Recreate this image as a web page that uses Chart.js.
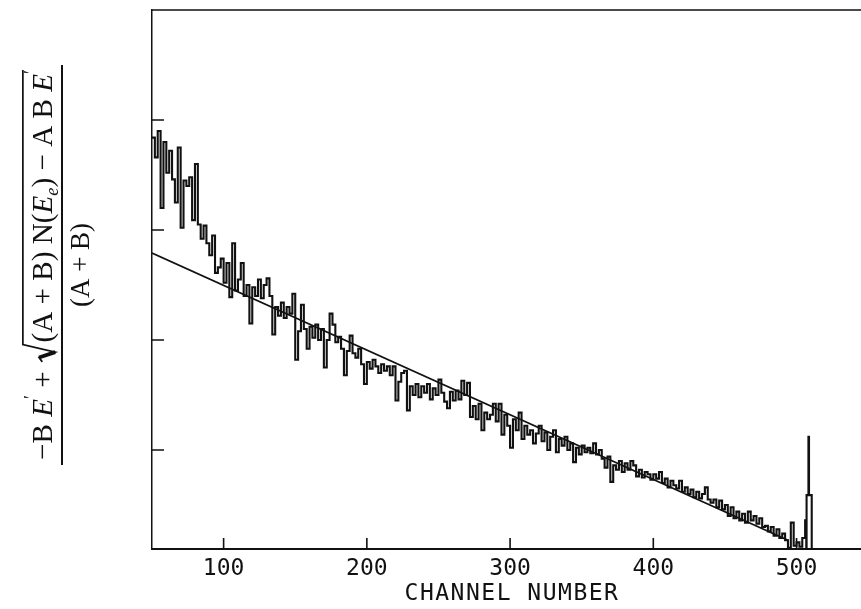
<!DOCTYPE html>
<html>
<head>
<meta charset="utf-8">
<script src="https://cdn.jsdelivr.net/npm/chart.js@4.4.1/dist/chart.umd.min.js"></script>
<style>
  html, body { margin: 0; padding: 0; background: #fff; }
  #forChart { width: 861px; height: 609px; }
</style>
</head>
<body>
<div id="forChart"><canvas id="myChart" width="861" height="609"></canvas></div>
<script>
// spectrum, one value every 2 channels starting at channel 50
const firstChannel = 50;
const channelStep = 2;
const counts = [
  3.84, 3.66, 3.90, 3.20, 3.80, 3.52, 3.72, 3.46, 3.25, 3.75,   // 50
  3.02, 3.45, 3.40, 3.48, 3.09, 3.60, 3.05, 2.92, 3.04, 2.88,   // 70
  2.77, 2.95, 2.61, 2.66, 2.74, 2.52, 2.70, 2.39, 2.88, 2.45,   // 90
  2.55, 2.70, 2.40, 2.50, 2.15, 2.48, 2.40, 2.55, 2.38, 2.50,   // 110
  2.56, 2.40, 2.05, 2.30, 2.22, 2.34, 2.20, 2.30, 2.24, 2.42,   // 130
  1.82, 2.08, 2.32, 2.10, 1.92, 2.12, 2.02, 2.14, 2.00, 2.10,   // 150
  1.75, 2.00, 2.24, 2.14, 1.98, 2.03, 1.92, 1.68, 1.90, 2.04,   // 170
  1.88, 1.84, 1.92, 1.78, 1.60, 1.80, 1.74, 1.82, 1.76, 1.70,   // 190
  1.78, 1.72, 1.76, 1.68, 1.76, 1.45, 1.62, 1.70, 1.72, 1.36,   // 210
  1.58, 1.50, 1.60, 1.48, 1.58, 1.52, 1.60, 1.46, 1.56, 1.50,   // 230
  1.64, 1.52, 1.44, 1.38, 1.53, 1.45, 1.54, 1.46, 1.63, 1.50,   // 250
  1.61, 1.30, 1.40, 1.28, 1.42, 1.18, 1.34, 1.28, 1.32, 1.42,   // 270
  1.26, 1.42, 1.14, 1.32, 1.22, 1.02, 1.28, 1.18, 1.34, 1.10,   // 290
  1.22, 1.14, 1.18, 1.06, 1.15, 1.22, 1.08, 1.16, 1.00, 1.12,   // 310
  1.18, 0.98, 1.10, 1.04, 1.12, 1.00, 1.06, 0.89, 1.02, 0.96,   // 330
  1.04, 0.98, 1.02, 0.97, 1.06, 0.96, 1.00, 0.92, 0.84, 0.94,   // 350
  0.71, 0.86, 0.82, 0.90, 0.80, 0.88, 0.82, 0.90, 0.86, 0.76,   // 370
  0.82, 0.75, 0.80, 0.78, 0.73, 0.78, 0.74, 0.80, 0.70, 0.74,   // 390
  0.66, 0.72, 0.68, 0.65, 0.72, 0.62, 0.66, 0.60, 0.64, 0.57,   // 410
  0.62, 0.56, 0.60, 0.66, 0.55, 0.52, 0.55, 0.48, 0.54, 0.46,   // 430
  0.50, 0.40, 0.48, 0.38, 0.44, 0.36, 0.42, 0.34, 0.44, 0.36,   // 450
  0.40, 0.33, 0.38, 0.30, 0.31, 0.26, 0.30, 0.22, 0.28, 0.20,   // 470
  0.24, 0.18, 0.11, 0.34, 0.13, 0.16, 0.12, 0.20, 0.36          // 490
];
// the peak at the end of the spectrum
const tailChannels = [506.8, 507, 508.3, 508.7, 510.6];
const tailCounts = [0.10, 0.59, 1.12, 0.59, 0.10];

// straight line fit
const fitChannels = [50, 494];
const fitCounts = [2.79, 0.18];

const xTicks = [100, 200, 300, 400, 500];
const yTicks = [1, 2, 3, 4];

const spectrum = counts.map((v, i) => ({x: firstChannel + i * channelStep, y: v}));
tailChannels.forEach((c, i) => spectrum.push({x: c, y: tailCounts[i]}));
const fit = fitChannels.map((c, i) => ({x: c, y: fitCounts[i]}));

function drawFormula(ctx) {
    const base = 27;
    const roman = base + 'px "Liberation Serif"';
    const italic = 'italic ' + base + 'px "Liberation Serif"';
    const small = '17px "Liberation Serif"';
    const smallItalic = 'italic 17px "Liberation Serif"';
    const pieces = [
        {t: '\u2212B ', f: roman}, {t: 'E', f: italic}, {t: '\u2032', f: small, dy: -14},
        {t: ' + ', f: roman}, {rad: 20},
        {t: '(A + B) N(', f: roman}, {t: 'E', f: italic}, {t: 'e', f: smallItalic, dy: 6},
        {t: ') \u2212 A B ', f: roman}, {t: 'E', f: italic}, {t: '\u2032', f: small, dy: -14}
    ];
    ctx.save();
    ctx.fillStyle = '#111';
    ctx.strokeStyle = '#111';
    ctx.textBaseline = 'alphabetic';
    ctx.translate(62, 265);
    ctx.rotate(-Math.PI / 2);

    // fraction bar
    ctx.lineWidth = 2;
    ctx.beginPath();
    ctx.moveTo(-200, 0);
    ctx.lineTo(200, 0);
    ctx.stroke();

    // denominator
    ctx.font = roman;
    ctx.textAlign = 'center';
    ctx.fillText('(A + B)', 0, 27);

    // numerator
    ctx.textAlign = 'left';
    let total = 0;
    pieces.forEach(p => {
        if (p.rad) { p.w = p.rad; } else { ctx.font = p.f; p.w = ctx.measureText(p.t).width; }
        total += p.w;
    });
    const k = 390 / total;
    ctx.translate(-195, -10);
    ctx.scale(k, k);
    let u = 0, radStart = 0;
    pieces.forEach(p => {
        if (p.rad) {
            radStart = u;
        } else {
            ctx.font = p.f;
            ctx.fillText(p.t, u, p.dy || 0);
        }
        u += p.w;
    });
    const r = radStart;
    ctx.lineWidth = 1.6;
    ctx.beginPath();
    ctx.moveTo(r + 2, -9);
    ctx.lineTo(r + 6, -12);
    ctx.lineTo(r + 11, 3);
    ctx.lineTo(r + 18, -27);
    ctx.lineTo(u, -27);
    ctx.stroke();
    ctx.lineWidth = 3.5;
    ctx.beginPath();
    ctx.moveTo(r + 6, -12);
    ctx.lineTo(r + 11, 3);
    ctx.stroke();
    ctx.restore();
}

const frame = {
    id: 'frame',
    afterDraw(chart) {
        const ctx = chart.ctx;
        const a = chart.chartArea;
        const x = chart.scales.x;
        const y = chart.scales.y;
        ctx.save();
        ctx.strokeStyle = '#111';
        ctx.lineWidth = 1.6;
        ctx.beginPath();
        ctx.moveTo(a.left, a.top);
        ctx.lineTo(a.right, a.top);
        xTicks.forEach(v => {
            const px = x.getPixelForValue(v);
            ctx.moveTo(px, a.bottom);
            ctx.lineTo(px, a.bottom - 11);
        });
        yTicks.forEach(v => {
            const py = y.getPixelForValue(v);
            ctx.moveTo(a.left, py);
            ctx.lineTo(a.left + 12, py);
        });
        ctx.stroke();

        ctx.fillStyle = '#111';
        ctx.font = '23px "DejaVu Sans Mono"';
        ctx.letterSpacing = '1.5px';
        ctx.textAlign = 'center';
        ctx.textBaseline = 'middle';
        ctx.fillText('CHANNEL NUMBER', 512, 594);
        ctx.restore();

        drawFormula(ctx);
    }
};

const config = {
    type: 'line',
    data: {
        datasets: [{
            label: 'spectrum',
            data: spectrum,
            stepped: true,
            borderColor: '#111',
            borderWidth: 2.1,
            pointRadius: 0,
            fill: false
        }, {
            label: 'fit',
            data: fit,
            borderColor: '#111',
            borderWidth: 1.8,
            pointRadius: 0,
            fill: false
        }]
    },
    options: {
        responsive: false,
        devicePixelRatio: 1,
        animation: false,
        layout: {padding: {top: 10, right: 0, left: 0, bottom: 0}},
        plugins: {legend: {display: false}, tooltip: {enabled: false}},
        scales: {
            x: {
                type: 'linear',
                min: 50,
                max: 545,
                afterBuildTicks: s => { s.ticks = xTicks.map(v => ({value: v})); },
                afterFit: s => { s.height = 60; },
                grid: {display: false, drawTicks: false},
                border: {display: true, color: '#111', width: 2},
                ticks: {
                    font: {family: 'DejaVu Sans Mono', size: 23},
                    color: '#111',
                    padding: 6,
                    maxRotation: 0,
                    autoSkip: false
                }
            },
            y: {
                type: 'linear',
                min: 0.1,
                max: 5.0,
                afterBuildTicks: s => { s.ticks = yTicks.map(v => ({value: v})); },
                afterFit: s => { s.width = 152; },
                grid: {display: false, drawTicks: false},
                border: {display: true, color: '#111', width: 1.5},
                ticks: {display: false}
            }
        }
    },
    plugins: [frame]
};

const myChart = new Chart(document.getElementById('myChart'), config);
</script>
</body>
</html>
